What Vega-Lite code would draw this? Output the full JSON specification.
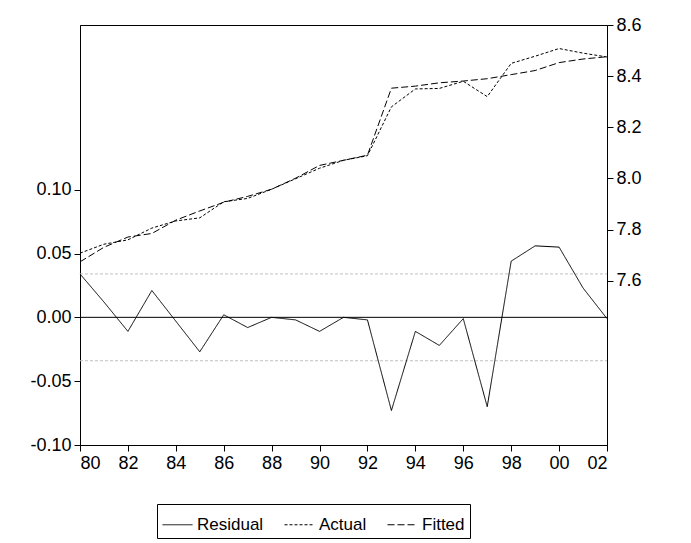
{
  "$schema": "https://vega.github.io/schema/vega-lite/v6.json",
  "width": 527,
  "height": 420,
  "autosize": {"type": "none"},
  "padding": {"left": 80, "top": 25, "right": 84, "bottom": 98},
  "data": {
    "values": [
      {"year": 1980, "Residual": 0.034, "Actual": 7.708, "Fitted": 7.674},
      {"year": 1981, "Residual": 0.012, "Actual": 7.743, "Fitted": 7.731},
      {"year": 1982, "Residual": -0.011, "Actual": 7.760, "Fitted": 7.771},
      {"year": 1983, "Residual": 0.021, "Actual": 7.806, "Fitted": 7.785},
      {"year": 1984, "Residual": -0.003, "Actual": 7.834, "Fitted": 7.837},
      {"year": 1985, "Residual": -0.027, "Actual": 7.846, "Fitted": 7.873},
      {"year": 1986, "Residual": 0.002, "Actual": 7.909, "Fitted": 7.907},
      {"year": 1987, "Residual": -0.008, "Actual": 7.922, "Fitted": 7.930},
      {"year": 1988, "Residual": 0.0, "Actual": 7.958, "Fitted": 7.958},
      {"year": 1989, "Residual": -0.002, "Actual": 7.999, "Fitted": 8.001},
      {"year": 1990, "Residual": -0.011, "Actual": 8.040, "Fitted": 8.051},
      {"year": 1991, "Residual": 0.0, "Actual": 8.071, "Fitted": 8.071},
      {"year": 1992, "Residual": -0.002, "Actual": 8.089, "Fitted": 8.091},
      {"year": 1993, "Residual": -0.073, "Actual": 8.280, "Fitted": 8.353},
      {"year": 1994, "Residual": -0.011, "Actual": 8.350, "Fitted": 8.361},
      {"year": 1995, "Residual": -0.022, "Actual": 8.352, "Fitted": 8.374},
      {"year": 1996, "Residual": -0.001, "Actual": 8.380, "Fitted": 8.381},
      {"year": 1997, "Residual": -0.070, "Actual": 8.320, "Fitted": 8.390},
      {"year": 1998, "Residual": 0.044, "Actual": 8.450, "Fitted": 8.406},
      {"year": 1999, "Residual": 0.056, "Actual": 8.478, "Fitted": 8.422},
      {"year": 2000, "Residual": 0.055, "Actual": 8.508, "Fitted": 8.453},
      {"year": 2001, "Residual": 0.023, "Actual": 8.490, "Fitted": 8.467},
      {"year": 2002, "Residual": -0.001, "Actual": 8.475, "Fitted": 8.476}
    ]
  },
  "encoding": {
    "x": {
      "field": "year",
      "type": "quantitative",
      "scale": {"domain": [1980, 2002], "nice": false, "zero": false},
      "axis": {
        "title": null,
        "values": [1980, 1982, 1984, 1986, 1988, 1990, 1992, 1994, 1996, 1998, 2000, 2002],
        "labelExpr": "substring(toString(datum.value), 2)",
        "grid": false,
        "tickSize": 6
      }
    }
  },
  "layer": [
    {
      "layer": [
        {
          "data": {"values": [{"y": 0.034}, {"y": -0.034}]},
          "mark": {"type": "rule", "color": "#c0c0c0", "strokeDash": [3, 2], "strokeWidth": 1},
          "encoding": {"y": {"field": "y", "type": "quantitative"}, "x": {"value": 0}, "x2": {"value": 527}}
        },
        {
          "data": {"values": [{"y": 0}]},
          "mark": {"type": "rule", "color": "black", "strokeWidth": 1},
          "encoding": {"y": {"field": "y", "type": "quantitative"}, "x": {"value": 0}, "x2": {"value": 527}}
        },
        {
          "transform": [{"fold": ["Residual"], "as": ["series", "value"]}],
          "mark": {"type": "line", "color": "black", "strokeWidth": 1},
          "encoding": {
            "y": {
              "field": "value",
              "type": "quantitative",
              "scale": {"domain": [-0.1, 0.229], "nice": false, "zero": false},
              "axis": {
                "title": null,
                "orient": "left",
                "grid": false,
                "values": [-0.1, -0.05, 0, 0.05, 0.1],
                "labelExpr": "replace(format(datum.value, '.2f'), '\u2212', '-')",
                "tickSize": 6
              }
            },
            "strokeDash": {
              "field": "series",
              "type": "nominal",
              "scale": {"domain": ["Residual", "Actual", "Fitted"], "range": [[1, 0], [3, 2], [7, 3]]},
              "legend": {
                "title": null,
                "orient": "none",
                "legendX": 77,
                "legendY": 479,
                "direction": "horizontal",
                "strokeColor": "black",
                "padding": 5,
                "symbolType": "stroke",
                "symbolSize": 900,
                "symbolStrokeColor": "black",
                "symbolStrokeWidth": 1,
                "labelFontSize": 17,
                "columnPadding": 18,
                "symbolOffset": 0,
                "cornerRadius": 0
              }
            }
          }
        }
      ]
    },
    {
      "transform": [{"fold": ["Actual", "Fitted"], "as": ["series", "value"]}],
      "mark": {"type": "line", "color": "black", "strokeWidth": 1},
      "encoding": {
        "y": {
          "field": "value",
          "type": "quantitative",
          "scale": {"domain": [6.958, 8.6], "nice": false, "zero": false},
          "axis": {
            "title": null,
            "orient": "right",
            "grid": false,
            "values": [7.6, 7.8, 8.0, 8.2, 8.4, 8.6],
            "format": ".1f",
            "tickSize": 6
          }
        },
        "strokeDash": {"field": "series", "type": "nominal"}
      }
    }
  ],
  "resolve": {"scale": {"y": "independent"}},
  "config": {
    "font": "Liberation Sans",
    "view": {"stroke": "black", "strokeWidth": 1},
    "axis": {
      "labelFontSize": 18,
      "labelColor": "black",
      "domainColor": "black",
      "tickColor": "black",
      "labelPadding": 3
    },
    "legend": {"labelColor": "black"}
  }
}
